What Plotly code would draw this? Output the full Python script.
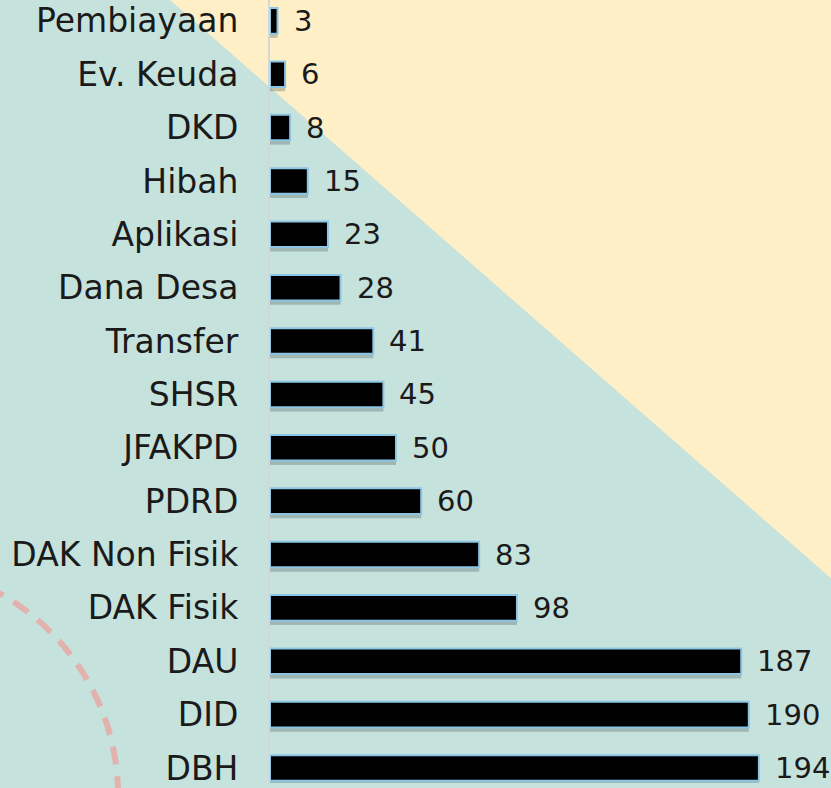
import plotly.graph_objects as go

categories = ["DBH", "DID", "DAU", "DAK Fisik", "DAK Non Fisik", "PDRD", "JFAKPD",
              "SHSR", "Transfer", "Dana Desa", "Aplikasi", "Hibah", "DKD",
              "Ev. Keuda", "Pembiayaan"]
values = [194, 190, 187, 98, 83, 60, 50, 45, 41, 28, 23, 15, 8, 6, 3]

W, H = 831, 788
L = 270
PW = W - L

def px(x):
    return (x - L) / PW

def py(y):
    return (H - y) / H

FONT = "DejaVu Sans"
BAR_W = 0.48

fig = go.Figure()

# shadow
fig.add_trace(go.Bar(
    x=values, y=categories, orientation="h",
    width=BAR_W, offset=-BAR_W / 2 - 0.08,
    marker=dict(color="rgba(70,80,80,0.3)", line=dict(width=0)),
    hoverinfo="skip", showlegend=False,
))
fig.add_trace(go.Bar(
    x=values, y=categories, orientation="h",
    width=BAR_W,
    marker=dict(color="#000000", line=dict(color="#8CC6E4", width=2)),
    showlegend=False,
))

annotations = []
for c, v in zip(categories, values):
    annotations.append(dict(
        x=v, y=c, xref="x", yref="y", text=str(v), showarrow=False,
        xanchor="left", yanchor="middle", xshift=14,
        font=dict(family=FONT, size=29, color="#1a1a1a"),
    ))

tri = (f"M {px(170)} {py(0)} L {px(831)} {py(0)} L {px(831)} {py(582)} Z")
cx, cy, r = -115, 800, 233
shapes = [
    dict(type="path", xref="paper", yref="paper", path=tri,
         fillcolor="#FEEFC6", line=dict(width=0), layer="below"),
    dict(type="circle", xref="paper", yref="paper",
         x0=px(cx - r), x1=px(cx + r), y0=py(cy + r), y1=py(cy - r),
         line=dict(color="#E2B3AE", width=6, dash="18px,12px"),
         fillcolor="rgba(0,0,0,0)", layer="below"),
]

fig.update_layout(
    width=W, height=H,
    margin=dict(l=L, r=0, t=0, b=0, pad=0),
    paper_bgcolor="#C6E2DD", plot_bgcolor="rgba(0,0,0,0)",
    barmode="overlay",
    shapes=shapes, annotations=annotations,
    xaxis=dict(range=[0, PW / 2.52], visible=False, fixedrange=True),
    yaxis=dict(type="category", categoryorder="array", categoryarray=categories,
               range=[-0.28, 14.39], showgrid=False, zeroline=False,
               showline=True, linecolor="#D6D6D6", linewidth=2,
               ticks="", ticklabelstandoff=23, fixedrange=True,
               tickfont=dict(family=FONT, size=33, color="#1a1a1a")),
    font=dict(family=FONT),
)

fig.write_html("out.html",
               config={"displayModeBar": False},
               post_script="document.body.style.margin='0px';"
                           "document.body.style.overflow='hidden';")
